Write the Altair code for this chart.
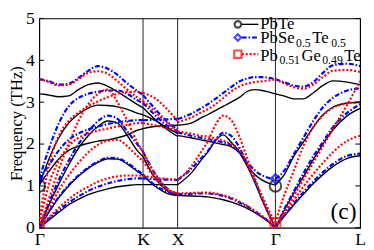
import altair as alt
import pandas as pd

FONT = "Liberation Serif"
W, H = 328, 214

# high-symmetry points along the path (units of 2*pi/a)
G1, K, X, G2, L = 0.0, 1.0607, 1.4142, 2.4142, 3.2802
TICK_POS = [G1, K, X, G2, L]
TICK_LBL = ["Γ", "K", "X", "Γ", "L"]
Y_TICKS = [0, 1, 2, 3, 4, 5]

# sampling positions of each path segment
GK_X = [0.0, 0.05, 0.10, 0.20, 0.30, 0.40, 0.50, 0.60, 0.70, 0.80, 0.90, 1.00, 1.0607]
KX_X = [1.0607, 1.18, 1.30, 1.4142]
XG_X = [1.4142, 1.55, 1.65, 1.72, 1.80, 1.88, 1.96, 2.05, 2.12, 2.20, 2.28, 2.35, 2.4142]
GL_X = [2.4142, 2.50, 2.60, 2.70, 2.80, 2.90, 3.00, 3.15, 3.2802]

# ---------------- PbTe (THz) ----------------
PBTE_GK = [
    [0, 0.10, 0.19, 0.37, 0.55, 0.68, 0.79, 0.87, 0.93, 0.98, 1.01, 1.03, 1.03],
    [0, 0.20, 0.38, 0.72, 1.00, 1.23, 1.42, 1.56, 1.65, 1.64, 1.52, 1.35, 1.25],
    [0, 0.28, 0.55, 1.05, 1.50, 1.90, 2.20, 2.42, 2.55, 2.50, 2.20, 1.85, 1.70],
    [1.02, 1.20, 1.35, 1.65, 1.85, 1.95, 2.02, 2.07, 2.10, 2.15, 2.22, 2.33, 2.37],
    [1.02, 1.35, 1.65, 2.15, 2.50, 2.72, 2.86, 2.93, 2.92, 2.89, 2.83, 2.74, 2.70],
    [3.20, 3.19, 3.17, 3.13, 3.15, 3.30, 3.42, 3.46, 3.38, 3.25, 3.10, 2.95, 2.87],
]
PBTE_KX = [
    [1.03, 1.03, 1.03, 1.03],
    [1.25, 1.00, 0.83, 0.77],
    [1.70, 1.20, 0.90, 0.77],
    [2.37, 2.42, 2.44, 2.45],
    [2.70, 2.57, 2.40, 2.25],
    [2.87, 2.60, 2.36, 2.18],
]
PBTE_XG = [
    [0.77, 0.76, 0.75, 0.74, 0.71, 0.67, 0.62, 0.54, 0.47, 0.37, 0.25, 0.13, 0],
    [1.03, 1.30, 1.60, 1.80, 2.08, 2.22, 2.05, 1.80, 1.50, 1.10, 0.65, 0.30, 0],
    [2.20, 2.15, 2.10, 2.07, 2.03, 1.99, 1.94, 1.78, 1.50, 1.28, 1.14, 1.06, 1.02],
    [2.45, 2.50, 2.62, 2.70, 2.80, 2.90, 3.00, 3.12, 3.25, 3.30, 3.28, 3.24, 3.20],
]
PBTE_GL = [
    [0, 0.26, 0.54, 0.80, 1.05, 1.27, 1.46, 1.66, 1.72],
    [0, 0.40, 0.82, 1.22, 1.62, 2.00, 2.33, 2.68, 2.85],
    [1.02, 1.25, 1.70, 2.05, 2.40, 2.70, 2.88, 2.98, 3.00],
    [3.20, 3.15, 3.08, 3.08, 3.22, 3.40, 3.51, 3.48, 3.42],
]

# ---------------- PbSe0.5Te0.5 ----------------
PBSE_GK = [
    [0, 0.11, 0.22, 0.42, 0.60, 0.75, 0.88, 0.98, 1.06, 1.12, 1.16, 1.18, 1.18],
    [0, 0.20, 0.39, 0.74, 1.02, 1.25, 1.44, 1.58, 1.67, 1.66, 1.55, 1.38, 1.27],
    [0, 0.30, 0.60, 1.15, 1.60, 2.00, 2.30, 2.55, 2.68, 2.60, 2.30, 2.00, 1.82],
    [1.15, 1.33, 1.50, 1.85, 2.10, 2.25, 2.35, 2.42, 2.48, 2.52, 2.55, 2.57, 2.57],
    [1.15, 1.55, 1.90, 2.50, 2.90, 3.10, 3.20, 3.25, 3.28, 3.28, 3.20, 3.05, 2.98],
    [3.55, 3.53, 3.50, 3.42, 3.44, 3.58, 3.75, 3.86, 3.80, 3.65, 3.45, 3.27, 3.17],
]
PBSE_KX = [
    [1.18, 1.16, 1.15, 1.14],
    [1.27, 1.02, 0.87, 0.80],
    [1.82, 1.30, 0.95, 0.80],
    [2.57, 2.58, 2.59, 2.60],
    [2.98, 2.70, 2.45, 2.28],
    [3.17, 2.85, 2.55, 2.35],
]
PBSE_XG = [
    [0.80, 0.81, 0.82, 0.82, 0.80, 0.76, 0.70, 0.60, 0.52, 0.40, 0.27, 0.14, 0],
    [1.14, 1.40, 1.65, 1.82, 2.10, 2.27, 2.20, 1.90, 1.55, 1.15, 0.68, 0.30, 0],
    [2.28, 2.20, 2.15, 2.12, 2.08, 2.04, 1.98, 1.80, 1.58, 1.38, 1.25, 1.19, 1.17],
    [2.60, 2.72, 2.85, 2.95, 3.08, 3.22, 3.36, 3.50, 3.56, 3.60, 3.60, 3.58, 3.55],
]
PBSE_GL = [
    [0, 0.28, 0.57, 0.85, 1.10, 1.33, 1.52, 1.72, 1.77],
    [0, 0.42, 0.86, 1.30, 1.70, 2.05, 2.40, 2.75, 2.95],
    [1.17, 1.35, 1.75, 2.15, 2.55, 2.88, 3.10, 3.28, 3.33],
    [3.55, 3.48, 3.40, 3.37, 3.48, 3.70, 3.88, 3.92, 3.86],
]

# ---------------- Pb0.51Ge0.49Te ----------------
PBGE_GK = [
    [0, 0.13, 0.25, 0.48, 0.68, 0.85, 0.98, 1.10, 1.18, 1.23, 1.25, 1.25, 1.24],
    [0, 0.23, 0.45, 0.90, 1.25, 1.55, 1.80, 1.98, 2.08, 2.10, 1.95, 1.72, 1.60],
    [0, 0.35, 0.70, 1.40, 2.00, 2.55, 2.95, 3.20, 3.30, 3.00, 2.55, 2.05, 1.80],
    [0.12, 0.60, 1.05, 1.60, 1.95, 2.15, 2.25, 2.32, 2.37, 2.42, 2.46, 2.50, 2.50],
    [0.12, 0.90, 1.50, 2.20, 2.55, 2.75, 2.90, 3.02, 3.12, 3.20, 3.25, 3.25, 3.22],
    [3.55, 3.52, 3.48, 3.40, 3.42, 3.55, 3.70, 3.74, 3.68, 3.50, 3.30, 3.12, 3.03],
]
PBGE_KX = [
    [1.24, 1.20, 1.17, 1.15],
    [1.60, 1.20, 0.92, 0.82],
    [1.80, 1.30, 0.95, 0.82],
    [2.50, 2.45, 2.38, 2.32],
    [3.22, 3.10, 2.85, 2.55],
    [3.03, 2.78, 2.52, 2.32],
]
PBGE_XG = [
    [0.82, 0.83, 0.84, 0.84, 0.82, 0.78, 0.72, 0.62, 0.53, 0.41, 0.28, 0.14, 0],
    [1.15, 1.45, 1.80, 2.05, 2.45, 2.68, 2.58, 2.15, 1.70, 1.20, 0.70, 0.32, 0],
    [2.30, 2.25, 2.20, 2.18, 2.14, 2.08, 2.00, 1.85, 1.55, 1.15, 0.75, 0.40, 0.12],
    [2.52, 2.63, 2.75, 2.83, 2.95, 3.10, 3.25, 3.38, 3.44, 3.48, 3.50, 3.52, 3.55],
]
PBGE_GL = [
    [0, 0.32, 0.65, 0.98, 1.28, 1.55, 1.80, 2.08, 2.20],
    [0, 0.35, 0.75, 1.15, 1.55, 1.95, 2.35, 2.95, 3.50],
    [0.12, 0.75, 1.35, 1.95, 2.40, 2.68, 2.86, 2.97, 3.00],
    [3.55, 3.45, 3.36, 3.32, 3.42, 3.60, 3.75, 3.77, 3.72],
]

# zone-centre soft-mode markers
MARK_K = [G1, G2]
MARK_PBTE = [1.00, 1.00]
MARK_PBSE = [1.17, 1.17]
MARK_PBGE = [0.12, 0.12]

SEGS = {"GK": GK_X, "KX": KX_X, "XG": XG_X, "GL": GL_X}
DATA = {
    "PbTe": {"GK": PBTE_GK, "KX": PBTE_KX, "XG": PBTE_XG, "GL": PBTE_GL},
    "PbSe": {"GK": PBSE_GK, "KX": PBSE_KX, "XG": PBSE_XG, "GL": PBSE_GL},
    "PbGe": {"GK": PBGE_GK, "KX": PBGE_KX, "XG": PBGE_XG, "GL": PBGE_GL},
}

rows = []
for mat, segs in DATA.items():
    for seg, bands in segs.items():
        xs = SEGS[seg]
        for bi, ys in enumerate(bands):
            for kx, fy in zip(xs, ys):
                rows.append({"mat": mat, "key": f"{mat}-{seg}-{bi}", "k": kx, "f": fy})
df = pd.DataFrame(rows)

xscale = alt.Scale(domain=[G1, L], nice=False, zero=False)
yscale = alt.Scale(domain=[0, 5], nice=False)

# label expression built from tick arrays
expr = "''"
for pos, lbl in reversed(list(zip(TICK_POS, TICK_LBL))):
    expr = f"abs(datum.value - {pos}) < 0.01 ? '{lbl}' : ({expr})"

xaxis = alt.Axis(values=TICK_POS, labelExpr=expr, ticks=False, domain=False, grid=False,
                 labelFont=FONT, labelFontSize=18, labelColor="black", labelPadding=3,
                 labelFlush=False, title=None)
yaxis = alt.Axis(values=Y_TICKS, format="d", ticks=False, domain=False, grid=False,
                 labelFont=FONT, labelFontSize=18, labelColor="black", labelPadding=5,
                 title="Frequency (THz)", titleFont=FONT, titleFontSize=17,
                 titleFontWeight="normal", titleColor="black", titleX=-23, titleY=H / 2,
                 titleAngle=270, titleAlign="center", titleBaseline="middle")

XENC = alt.X("k:Q", scale=xscale, axis=xaxis)
YENC = alt.Y("f:Q", scale=yscale, axis=yaxis)

STYLE = {
    "PbTe": dict(color="black", strokeWidth=1.4),
    "PbSe": dict(color="#0000ff", strokeWidth=2.2, strokeDash=[5, 2, 1.5, 2]),
    "PbGe": dict(color="#ff0000", strokeWidth=2.2, strokeDash=[2, 2]),
}

layers = []
vl = pd.DataFrame({"k": TICK_POS[1:4]})
layers.append(alt.Chart(vl).mark_rule(color="#222222", strokeWidth=1).encode(x=XENC))

for mat in ["PbTe", "PbSe", "PbGe"]:
    layers.append(
        alt.Chart(df[df.mat == mat]).mark_line(interpolate="monotone", clip=True, **STYLE[mat]).encode(
            x=XENC, y=YENC, detail="key:N",
        )
    )

MK = {
    "PbTe": (MARK_PBTE, "circle", "black", 140),
    "PbSe": (MARK_PBSE, "diamond", "#0000ff", 95),
    "PbGe": (MARK_PBGE, "square", "#ff0000", 100),
}
for mat, (vals, shape, col, size) in MK.items():
    layers.append(
        alt.Chart(pd.DataFrame({"k": MARK_K, "f": vals})).mark_point(
            shape=shape, filled=False, color=col, size=size, strokeWidth=2, clip=True
        ).encode(x=XENC, y=YENC)
    )

ticks = pd.DataFrame({"f": Y_TICKS})
for x0 in (0, W - 5):
    layers.append(alt.Chart(ticks).mark_rule(color="black", strokeWidth=1).encode(
        x=alt.value(x0), x2=alt.value(x0 + 5), y=YENC))

# legend (drawn by hand)
one = pd.DataFrame({"a": [0]})
LEG_Y = [6.0, 19.5, 36.5]
LEG_BASE = [11.0, 25.5, 43.0]
LEG_SHAPE = [("circle", 45), ("diamond", 45), ("square", 55)]
LEG_PIECES = [
    [("PbTe", False)],
    [("PbSe", False), ("0.5", True), ("Te", False), ("0.5", True)],
    [("Pb", False), ("0.51", True), ("Ge", False), ("0.49", True), ("Te", False)],
]
EM = {"P": .556, "b": .5, "S": .556, "e": .444, "T": .611, "G": .722, ".": .25}
for i, mat in enumerate(["PbTe", "PbSe", "PbGe"]):
    st = dict(STYLE[mat])
    layers.append(alt.Chart(one).mark_rule(**st).encode(
        x=alt.value(207), x2=alt.value(224), y=alt.value(LEG_Y[i])))
    shape, size = LEG_SHAPE[i]
    layers.append(alt.Chart(one).mark_point(shape=shape, filled=False, color=st["color"], size=size,
                                            strokeWidth=2.2).encode(
        x=alt.value(203), y=alt.value(LEG_Y[i])))
    xpos = 226.0
    for txt, sub in LEG_PIECES[i]:
        fs = 12 if sub else 17
        layers.append(alt.Chart(one).mark_text(text=txt, font=FONT, fontSize=fs, align="left",
                                               baseline="alphabetic", color="black").encode(
            x=alt.value(xpos), y=alt.value(LEG_BASE[i] + (4 if sub else 0))))
        xpos += sum(EM.get(c, 0.5) for c in txt) * fs + 1.5

layers.append(alt.Chart(one).mark_text(text="(c)", font=FONT, fontSize=24, align="center",
                                       baseline="alphabetic", color="black").encode(
    x=alt.value(311), y=alt.value(205)))

chart = alt.layer(*layers).properties(
    width=W, height=H,
    autosize=alt.AutoSizeParams(type="none"),
    padding={"left": 32, "top": 8, "right": 6, "bottom": 20},
).configure_view(stroke="black", strokeWidth=1.2)

chart.save("out.html", embed_options={"renderer": "svg", "actions": False})
